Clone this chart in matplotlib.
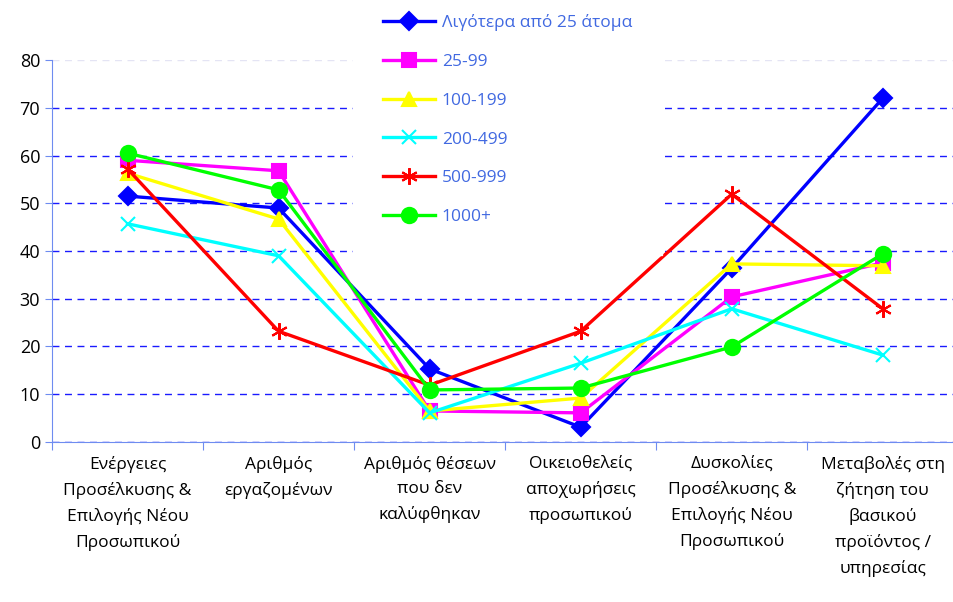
import matplotlib
matplotlib.use('Agg')
import matplotlib.pyplot as plt

plt.rcParams['font.family'] = ['Open Sans', 'DejaVu Sans']

kathgories = ['Ενέργειες\nΠροσέλκυσης &\nΕπιλογής Νέου\nΠροσωπικού',
              'Αριθμός\nεργαζομένων',
              'Αριθμός θέσεων\nπου δεν\nκαλύφθηκαν',
              'Οικειοθελείς\nαποχωρήσεις\nπροσωπικού',
              'Δυσκολίες\nΠροσέλκυσης &\nΕπιλογής Νέου\nΠροσωπικού',
              'Μεταβολές στη\nζήτηση του\nβασικού\nπροϊόντος /\nυπηρεσίας']

lt25 = [51.5, 49.0, 15.3, 3.1, 36.4, 72.0]
s25_99 = [59.0, 56.8, 6.5, 6.1, 30.4, 37.5]
s100_199 = [56.3, 46.7, 6.5, 9.2, 37.3, 36.9]
s200_499 = [45.7, 39.0, 6.1, 16.5, 27.9, 18.2]
s500_999 = [57.2, 23.2, 11.9, 23.2, 51.9, 27.9]
s1000 = [60.5, 52.8, 10.9, 11.3, 19.9, 39.4]

onomata = ['Λιγότερα από 25 άτομα', '25-99', '100-199', '200-499', '500-999', '1000+']
seires = [lt25, s25_99, s100_199, s200_499, s500_999, s1000]
xrwmata = ['#0000ff', '#ff00ff', '#ffff00', '#00ffff', '#ff0000', '#00ff00']
markers = ['D', 's', '^', 'x', (6, 2, 0), 'o']
msizes = [9, 10, 10, 10, 12, 11]

fig = plt.figure(figsize=(9.54, 6.02), dpi=100)
ax = fig.add_axes([0.0545, 0.2658, 0.95, 0.6345])

x = list(range(len(kathgories)))
for y, nm, c, m, ms in zip(seires, onomata, xrwmata, markers, msizes):
    ax.plot(x, y, color=c, lw=2.4, marker=m, markersize=ms, markeredgewidth=1.5,
            label=nm, zorder=3)

ax.set_xlim(-0.5, 5.5)
ax.set_ylim(0, 80)
ax.set_yticks(range(0, 81, 10))
ax.set_xticks([i + 0.5 for i in range(-1, 6)], minor=False)
ax.set_xticklabels([])
ax.set_xticks(x, minor=True)
ax.set_xticklabels(kathgories, minor=True, fontsize=12.5, linespacing=1.7, va='top')
ax.tick_params(axis='x', which='minor', length=0, pad=10)
ax.tick_params(axis='x', which='major', length=6, color='#6e8cf0')
ax.tick_params(axis='y', length=5, color='#6e8cf0', labelsize=13)

ax.yaxis.grid(True, color='#1a1aff', linestyle=(0, (5, 4)), lw=1)
ax.get_ygridlines()[-1].set_color('#e4e4f4')
ax.set_axisbelow(True)
for s in ['top', 'right']:
    ax.spines[s].set_visible(False)
for s in ['left', 'bottom']:
    ax.spines[s].set_color('#6e8cf0')

leg = ax.legend(loc='upper left', bbox_to_anchor=(0.332, 1.199), frameon=True,
                edgecolor='white', framealpha=1, fontsize=12.5, handlelength=3.0,
                handletextpad=0.4, labelspacing=1.31, borderpad=1.72,
                borderaxespad=0, fancybox=False)
for t in leg.get_texts():
    t.set_color('#4169e1')

fig.savefig('out.png', dpi=100)
